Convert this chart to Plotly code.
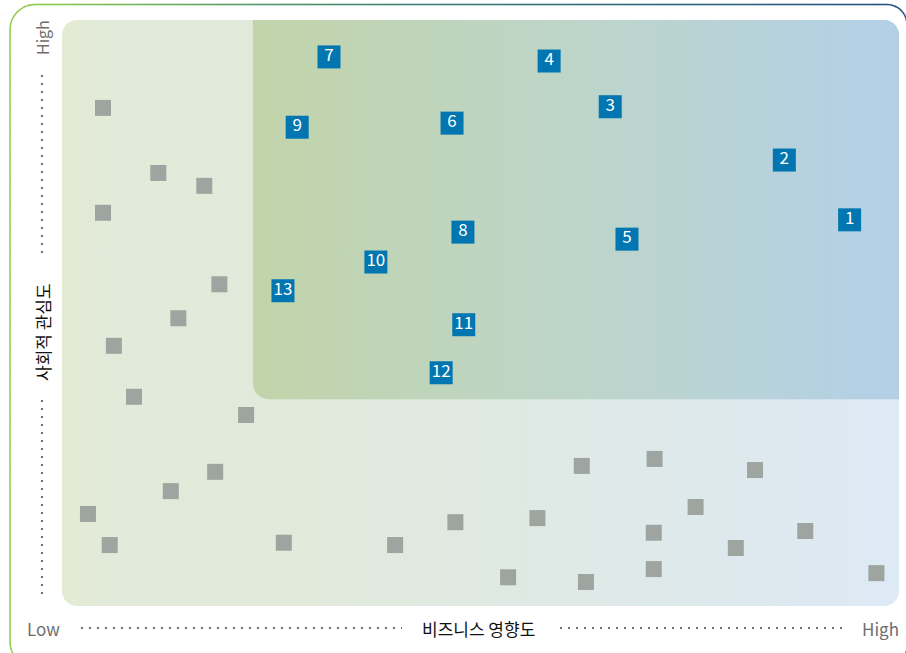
import numpy as np
import plotly.graph_objects as go

# ---------------- data (business impact = x, social interest = y, 0-10 scale) ----------------
key_ids = ["1", "2", "3", "4", "5", "6", "7", "8", "9", "10", "11", "12", "13"]
key_x = [9.41, 8.63, 6.55, 5.82, 6.75, 4.66, 3.19, 4.79, 2.81, 3.75, 4.80, 4.53, 2.64]
key_y = [6.59, 7.61, 8.52, 9.30, 6.26, 8.24, 9.37, 6.38, 8.17, 5.87, 4.80, 3.98, 5.38]

other_x = [0.49, 1.15, 1.70, 0.49, 1.88, 1.39, 0.62, 0.86, 2.20, 1.83, 1.30, 0.31, 0.57, 2.65,
           3.98, 4.70, 5.68, 5.33, 6.26, 6.21, 7.08, 8.28, 7.57, 7.07, 8.05, 8.88, 7.07, 9.73]
other_y = [8.50, 7.39, 7.17, 6.71, 5.49, 4.91, 4.44, 3.57, 3.26, 2.29, 1.96, 1.57, 1.04, 1.08,
           1.04, 1.43, 1.50, 0.49, 0.41, 2.39, 2.51, 2.32, 1.69, 1.25, 0.99, 1.28, 0.63, 0.56]

x_title = "비즈니스 영향도"
y_title = "사회적 관심도"
low_label = "Low"
high_label = "High"

# material zone thresholds (data units)
zone_x0 = 2.28
zone_y0 = 3.53

# ---------------- geometry helpers ----------------
W, H = 906, 653
PL, PR, PT, PB = 62, 899, 20, 606
sx = (PR - PL) / 10.0
sy = (PB - PT) / 10.0


def X(px):
    return (px - PL) / sx


def Y(py):
    return (PB - py) / sy


def rrect(x0, y0, x1, y1, r_tl, r_tr, r_br, r_bl, n=14):
    pts = []

    def arc(cx, cy, r, a0, a1):
        for a in np.linspace(np.radians(a0), np.radians(a1), n):
            pts.append((cx + r * np.cos(a), cy + r * np.sin(a)))

    pts.append((x0 + r_tl, y0))
    arc(x1 - r_tr, y0 + r_tr, r_tr, -90, 0)
    arc(x1 - r_br, y1 - r_br, r_br, 0, 90)
    arc(x0 + r_bl, y1 - r_bl, r_bl, 90, 180)
    arc(x0 + r_tl, y0 + r_tl, r_tl, 180, 270)
    return pts


fig = go.Figure()

# outer light panel
op = rrect(PL, PT, PR, PB, 15, 15, 15, 15)
fig.add_trace(go.Scatter(
    x=[X(p[0]) for p in op], y=[Y(p[1]) for p in op], mode="lines", fill="toself",
    line=dict(width=0, simplify=False), hoverinfo="skip", showlegend=False,
    fillgradient=dict(type="horizontal",
                      colorscale=[[0, "#e4ebd4"], [0.05, "#e2ead9"], [0.3, "#e1eadb"],
                                  [0.6, "#dfe9e6"], [1, "#dde9f5"]])))

# inner highlighted zone
zx0 = PL + zone_x0 * sx
zy1 = PB - zone_y0 * sy
ip = rrect(zx0, PT, PR, zy1, 0, 15, 0, 16)
fig.add_trace(go.Scatter(
    x=[X(p[0]) for p in ip], y=[Y(p[1]) for p in ip], mode="lines", fill="toself",
    line=dict(width=0, simplify=False), hoverinfo="skip", showlegend=False,
    fillgradient=dict(type="horizontal",
                      colorscale=[[0, "#c1d4aa"], [0.5, "#bdd5c9"], [1, "#b3d0e8"]])))

# other (grey) issues
fig.add_trace(go.Scatter(
    x=other_x, y=other_y, mode="markers", hoverinfo="skip", showlegend=False,
    marker=dict(symbol="square", size=16, color="#9ea49f", line=dict(width=0))))

# key (blue) issues
fig.add_trace(go.Scatter(
    x=key_x, y=key_y, mode="markers+text", text=key_ids, textposition="middle center",
    hoverinfo="skip", showlegend=False,
    textfont=dict(family="Noto Sans CJK KR, Noto Sans", size=17, color="white"),
    marker=dict(symbol="square", size=23, color="#0176b0", line=dict(width=0))))

shapes = []

# gradient border (segmented)
bp = rrect(10, 4.5, 907, 667, 25, 20, 20, 25, n=10)
bp.append(bp[0])
dense = []
for (a, b) in zip(bp[:-1], bp[1:]):
    L = np.hypot(b[0] - a[0], b[1] - a[1])
    k = max(1, int(L // 12))
    for t in np.linspace(0, 1, k + 1)[:-1]:
        dense.append((a[0] + (b[0] - a[0]) * t, a[1] + (b[1] - a[1]) * t))
dense.append(dense[0])
stops = [(0.0, (146, 206, 80)), (0.1, (125, 190, 88)), (0.28, (85, 150, 105)),
         (0.45, (65, 125, 118)), (0.7, (48, 102, 125)), (1.0, (35, 82, 128))]


def bcol(px):
    t = min(1, max(0, (px - 10) / 897))
    for (t0, c0), (t1, c1) in zip(stops[:-1], stops[1:]):
        if t <= t1:
            f = (t - t0) / (t1 - t0)
            c = [int(c0[i] + (c1[i] - c0[i]) * f) for i in range(3)]
            return "rgb(%d,%d,%d)" % tuple(c)
    return "rgb(%d,%d,%d)" % stops[-1][1]


for a, b in zip(dense[:-1], dense[1:]):
    shapes.append(dict(type="line", xref="x", yref="y", x0=X(a[0]), y0=Y(a[1]),
                       x1=X(b[0]), y1=Y(b[1]), line=dict(color=bcol((a[0] + b[0]) / 2), width=1.6)))

# dotted guide lines
dot = dict(color="#6f6f6f", width=2, dash="2px,6px")
shapes.append(dict(type="line", x0=X(42), x1=X(42), y0=Y(75), y1=Y(256), line=dot))
shapes.append(dict(type="line", x0=X(42), x1=X(42), y0=Y(400), y1=Y(599), line=dot))
shapes.append(dict(type="line", x0=X(81), x1=X(402), y0=Y(628), y1=Y(628), line=dot))
shapes.append(dict(type="line", x0=X(560), x1=X(846), y0=Y(628), y1=Y(628), line=dot))

fnt = "Noto Sans CJK KR, Noto Sans, sans-serif"
annotations = [
    dict(x=X(43), y=Y(628), text=low_label, showarrow=False,
         font=dict(family=fnt, size=17, color="#6e6e6e")),
    dict(x=X(880), y=Y(628), text=high_label, showarrow=False,
         font=dict(family=fnt, size=17, color="#6e6e6e")),
    dict(x=X(478), y=Y(628), text=x_title, showarrow=False,
         font=dict(family=fnt, size=17, color="#111111")),
    dict(x=X(42), y=Y(38), text=high_label, showarrow=False, textangle=-90,
         font=dict(family=fnt, size=16, color="#6e6e6e")),
    dict(x=X(42), y=Y(332), text=y_title, showarrow=False, textangle=-90,
         font=dict(family=fnt, size=17, color="#111111")),
]

fig.update_layout(
    width=W, height=H, margin=dict(l=0, r=0, t=0, b=0),
    paper_bgcolor="white", plot_bgcolor="white",
    xaxis=dict(range=[X(0), X(W)], visible=False, fixedrange=True),
    yaxis=dict(range=[Y(H), Y(0)], visible=False, fixedrange=True),
    shapes=shapes, annotations=annotations, showlegend=False,
)

fig.write_html("out.html", config={"displayModeBar": False, "staticPlot": True},
               post_script="document.body.style.margin='0';document.body.style.overflow='hidden';")
